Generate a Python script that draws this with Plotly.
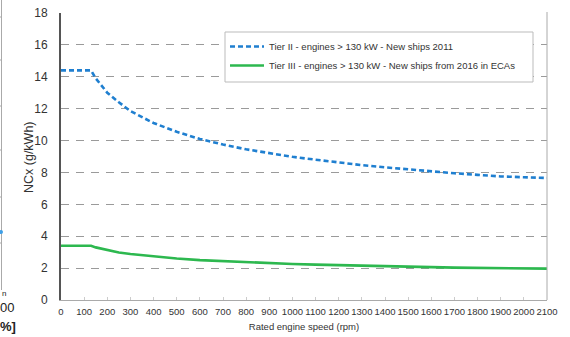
import plotly.graph_objects as go

# ---- data ----
rpm = [0, 100, 130, 150, 200, 250, 300, 400, 500, 600, 700, 800, 900, 1000,
       1100, 1200, 1300, 1400, 1500, 1600, 1700, 1800, 1900, 2000, 2100]
tier2_nox = [14.4, 14.4, 14.4, 13.9, 13.0, 12.4, 11.85, 11.1, 10.55, 10.1, 9.75, 9.45,
             9.2, 8.98, 8.8, 8.62, 8.46, 8.32, 8.19, 8.06, 7.95, 7.85, 7.75, 7.7, 7.65]
tier3_nox = [3.4, 3.4, 3.4, 3.3, 3.12, 2.98, 2.88, 2.72, 2.6, 2.5, 2.43, 2.36,
             2.31, 2.26, 2.22, 2.18, 2.14, 2.11, 2.08, 2.06, 2.03, 2.01, 1.99, 1.97, 1.97]
series_names = ["Tier II - engines > 130 kW - New ships 2011",
                "Tier III - engines > 130 kW - New ships from 2016 in ECAs"]
x_ticks = list(range(0, 2101, 100))
y_ticks = list(range(0, 19, 2))
grid_vals = list(range(2, 17, 2))
x_title = "Rated engine speed (rpm)"
y_title = "NCx (g/kWh)"

FONT = "Liberation Sans, Arial, sans-serif"
W, H = 570, 337
L, R, T, B = 61, 547, 13, 300


def px_x(p):
    return (p - L) / (R - L)


def px_y(p):
    return (B - p) / (B - T)


fig = go.Figure()
fig.add_trace(go.Scatter(x=rpm, y=tier2_nox, mode="lines", name=series_names[0],
                         line=dict(color="#1f7fd0", width=2.6, dash="5px,3px")))
fig.add_trace(go.Scatter(x=rpm, y=tier3_nox, mode="lines", name=series_names[1],
                         line=dict(color="#2db84f", width=2.6)))
# invisible trace to carry the grid axis
fig.add_trace(go.Scatter(x=[0], y=[0], yaxis="y2", mode="markers",
                         marker=dict(opacity=0), showlegend=False, hoverinfo="skip"))

fig.update_layout(
    width=W, height=H,
    margin=dict(l=L, r=W - R, t=T, b=H - B, pad=0),
    paper_bgcolor="white", plot_bgcolor="white",
    font=dict(family=FONT, color="#333", size=10),
    showlegend=True,
    legend=dict(x=px_x(225), y=px_y(32), xanchor="left", yanchor="top",
                bgcolor="rgba(0,0,0,0)", borderwidth=0,
                font=dict(size=9.5, color="#333"), itemwidth=34,
                tracegroupgap=4),
    xaxis=dict(range=[0, 2100], tickvals=x_ticks, showgrid=False, zeroline=False,
               showline=True, linecolor="#aaa", linewidth=1, automargin=False,
               ticks="inside", ticklen=3, tickcolor="#ccc", tickangle=0,
               ticklabelstandoff=3,
               tickfont=dict(size=9.5, color="#333"),
               title=dict(text=x_title, font=dict(size=9.5, color="#333"),
                          standoff=6)),
    yaxis=dict(range=[0, 18], tickvals=y_ticks, showgrid=False, zeroline=False,
               showline=True, linecolor="#555", linewidth=2, automargin=False,
               ticks="", ticklabelstandoff=9,
               tickfont=dict(size=12, color="#333")),
    yaxis2=dict(range=[0, 18], overlaying="y", tickvals=grid_vals, showgrid=True,
                gridcolor="#9a9a9a", gridwidth=1, griddash="8px,7px",
                showticklabels=False, zeroline=False, showline=False, ticks="",
                automargin=False),
)

# y-axis title
fig.add_annotation(x=px_x(29), y=px_y(157), xref="paper", yref="paper",
                   text=y_title, textangle=-90, showarrow=False,
                   xanchor="center", yanchor="middle",
                   font=dict(size=12.5, color="#333", family=FONT))

# legend frame (white box covering the grid)
fig.add_shape(type="rect", xref="paper", yref="paper", layer="above",
              x0=px_x(225), x1=px_x(533), y0=px_y(82), y1=px_y(32),
              fillcolor="white", line=dict(color="#bbb", width=1))

# right frame line
fig.add_shape(type="line", xref="paper", yref="paper", x0=1, x1=1, y0=0, y1=px_y(12),
              line=dict(color="#aaa", width=1))

# fragment of the neighbouring chart visible at the far left edge
fig.add_shape(type="line", xref="paper", yref="paper", x0=px_x(1.5), x1=px_x(1.5),
              y0=px_y(0), y1=px_y(290), line=dict(color="#aaa", width=1))
for yy in [17, 60, 106, 150, 197, 243]:
    fig.add_shape(type="line", xref="paper", yref="paper", x0=px_x(0), x1=px_x(2),
                  y0=px_y(yy), y1=px_y(yy), line=dict(color="#aaa", width=1))
fig.add_shape(type="circle", xref="paper", yref="paper",
              x0=px_x(-1), x1=px_x(3), y0=px_y(230), y1=px_y(234),
              fillcolor="#3fa0e8", line=dict(width=0))
fig.add_annotation(x=px_x(0), y=px_y(293), xref="paper", yref="paper",
                   text="n", showarrow=False, xanchor="left", yanchor="middle",
                   font=dict(size=8, color="#222", family=FONT))
fig.add_annotation(x=px_x(-2), y=px_y(307), xref="paper", yref="paper",
                   text="00", showarrow=False, xanchor="left", yanchor="middle",
                   font=dict(size=13, color="#222", family=FONT))
fig.add_annotation(x=px_x(-2), y=px_y(327), xref="paper", yref="paper",
                   text="<b>%]</b>", showarrow=False, xanchor="left", yanchor="middle",
                   font=dict(size=13, color="#222", family=FONT))

fig.write_html("out.html")
